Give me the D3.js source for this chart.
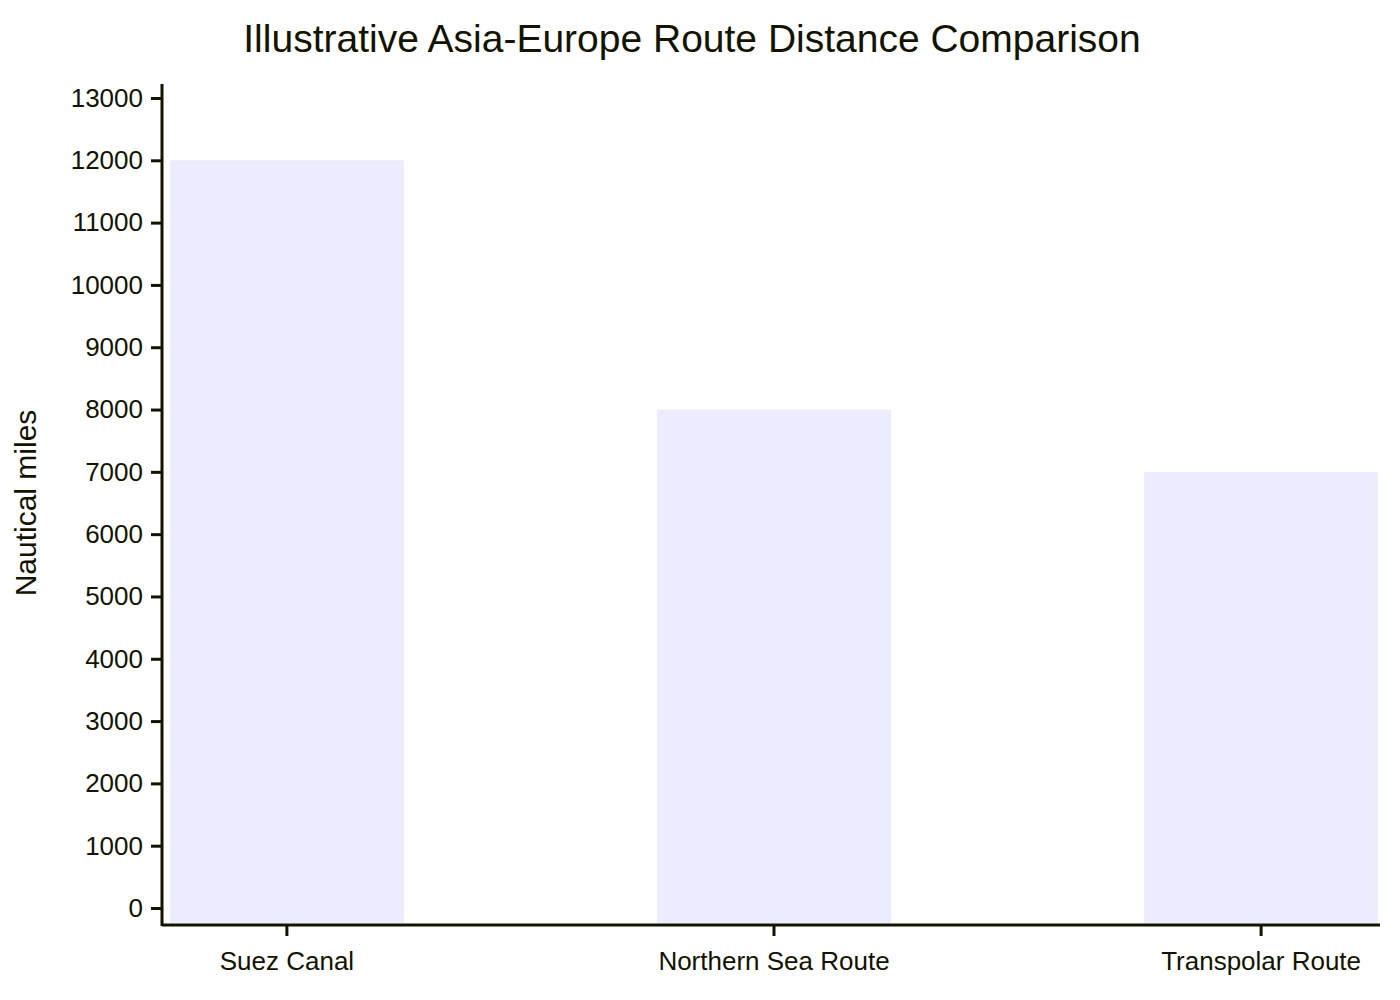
<!DOCTYPE html>
<html>
<head>
<meta charset="utf-8">
<script src="https://cdn.jsdelivr.net/npm/d3@7"></script>
<style>
  body { margin: 0; background: #fff; }
  text { font-family: "Liberation Sans", Arial, sans-serif; fill: #131300; }
</style>
</head>
<body>
<script>
const routes = ["Suez Canal", "Northern Sea Route", "Transpolar Route"];
const distances = [12000, 8000, 7000];
const yTicks = d3.range(0, 13001, 1000);

const svg = d3.select("body").append("svg")
  .attr("width", 1400).attr("height", 1000);

const x = d3.scaleBand().domain(routes).range([170, 1378])
  .paddingInner(0.52).paddingOuter(0);
const y = d3.scaleLinear().domain([0, 13000]).range([908, 98]);

svg.append("text").attr("x", 692).attr("y", 52)
  .attr("text-anchor", "middle").style("font-size", "39px")
  .text("Illustrative Asia-Europe Route Distance Comparison");

svg.selectAll("rect.bar").data(routes).enter().append("rect")
  .attr("class", "bar")
  .attr("x", d => x(d))
  .attr("width", x.bandwidth())
  .attr("y", (d, i) => y(distances[i]))
  .attr("height", (d, i) => 923 - y(distances[i]))
  .attr("fill", "#ECECFF");

// y axis
const yAxis = svg.append("g").attr("transform", "translate(162,0)")
  .call(d3.axisLeft(y).tickValues(yTicks).tickSize(11).tickPadding(8).tickFormat(d3.format("d")));
yAxis.select(".domain").remove();
yAxis.selectAll(".tick line").attr("stroke", "#131300").attr("stroke-width", 3);
yAxis.selectAll(".tick text").style("font-size", "26px");
svg.append("line").attr("x1", 162).attr("x2", 162).attr("y1", 84).attr("y2", 926)
  .attr("stroke", "#131300").attr("stroke-width", 3);

// x axis
const xAxis = svg.append("g").attr("transform", "translate(0,925)")
  .call(d3.axisBottom(x).tickSize(11).tickPadding(16));
xAxis.select(".domain").remove();
xAxis.selectAll(".tick line").attr("stroke", "#131300").attr("stroke-width", 3);
xAxis.selectAll(".tick text").style("font-size", "26px");
svg.append("line").attr("x1", 162).attr("x2", 1380).attr("y1", 925).attr("y2", 925)
  .attr("stroke", "#131300").attr("stroke-width", 3);

svg.append("text")
  .attr("transform", "translate(36,503) rotate(-90)")
  .attr("text-anchor", "middle").style("font-size", "30px")
  .text("Nautical miles");
</script>
</body>
</html>
